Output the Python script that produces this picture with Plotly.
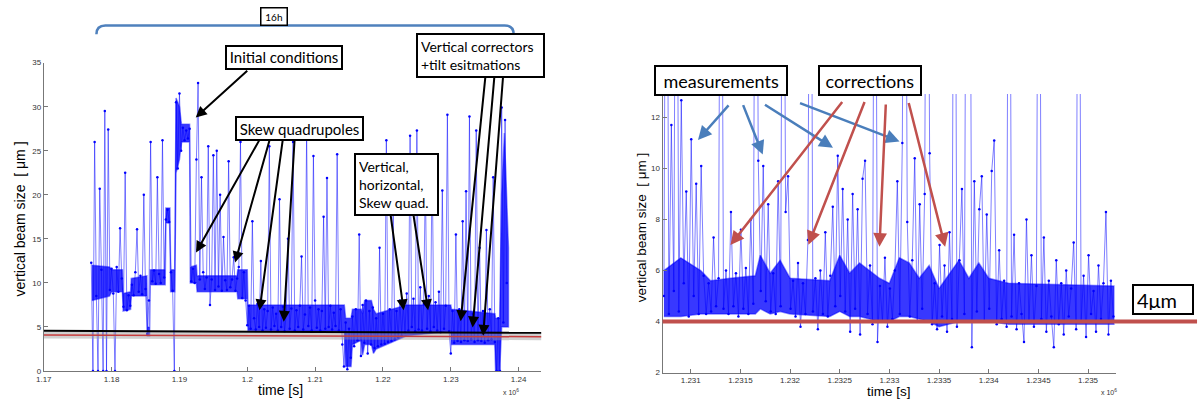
import numpy as np
import plotly.graph_objects as go

W, H = 1203, 407

# ---------------- data (time in units of 1e6 s, beam size in um) ----------------
# individual samples (spikes and scatter)
left_t0 = 1.1770
left_dt = 0.00025
left_size = [
    12.3, 0, 26.0, 8.5, 0, 20.7, 11.5, 0, 29.5, 0, 27.4,
    9.2, 11.6, 8.8, 0, 11.8, 9.0, 16.2, 10.5,
    7.3, 22.5, 6.9, 8.6, 7.4,
    9.8, 8.6, 11.2, 16.1, 9.0, 10.8, 8.7, 20.0, 9.3,
    4.2, 8.0,
    26.0, 10.2, 11.4, 9.9, 22.0, 11.0, 10.0, 26.2, 10.6,
    17.2, 18.3, 16.9,
    11.2, 9.1, 0,
    30.5, 23.0, 31.5, 25.0,
    27.6, 26.2, 27.3, 26.4, 27.5,
    10.2, 11.6, 10.0, 24.0, 32.7, 10.4, 22.0, 11.2,
    9.3, 10.6, 25.5, 7.5, 10.4, 24.5, 9.2, 25.0, 9.6, 20.0, 9.1, 15.2, 10.3, 9.2,
    23.8, 9.5, 10.4, 12.9, 9.1, 10.5, 11.8,
    26.0, 8.3, 11.2, 8.0,
    5.2, 7.4, 4.8, 17.0, 6.0, 4.7, 7.6, 5.0, 12.5, 4.6, 7.0, 4.9, 6.8, 25.5, 4.7,
    7.2, 5.1, 6.5, 4.6, 19.5, 5.0, 7.3, 4.5, 6.6, 15.0, 4.8, 7.1, 26.0, 4.6, 6.9,
    5.0, 7.4, 13.0, 4.7, 6.4, 27.0, 5.1, 7.2, 4.6, 24.4,
    8.0, 4.9,
    7.0, 4.6, 6.8, 17.5, 4.8, 21.9, 5.0, 7.4, 4.7, 6.6, 5.1, 24.6, 4.6, 7.0,
    3.0, 0.5, 5.5, 0.2, 4.8, 1.5,
    6.2, 2.8, 7.0, 3.5, 15.5, 1.7,
    7.5, 3.2, 8.0, 2.0, 6.8, 3.0,
    7.2, 2.6, 6.0, 2.8, 14.0, 3.0, 6.5, 3.1, 26.2, 3.3, 7.0, 3.4, 18.0, 3.6, 6.8, 3.8, 8.0, 4.0,
    7.5, 4.4, 8.8, 4.6, 26.7, 5.0, 8.2, 4.5, 27.3, 4.7, 9.5, 4.6, 7.6, 22.0, 4.8,
    8.5, 4.5, 24.0, 5.0, 7.8, 4.6, 9.0, 4.4, 20.5, 4.8, 7.4, 29.1, 4.5,
    2.0, 6.8, 3.2, 15.5, 3.4, 7.0, 3.3, 17.0, 3.5, 20.4, 3.4, 28.9, 3.6, 6.5, 3.3,
    27.3, 3.5, 14.0, 3.4, 6.8, 3.2, 16.0, 3.5, 7.0, 3.6, 22.0, 3.3,
    0, 6.0, 0,
    29.9, 5.5, 28.5, 10.0,
]

left_band_t = [1.1771, 1.1797, 1.1800, 1.1816, 1.1817, 1.1828, 1.1829, 1.1852, 1.1853, 1.1856,
               1.1857, 1.1879, 1.1880, 1.1886, 1.1887, 1.1893, 1.1895, 1.1900, 1.1903, 1.1915,
               1.1916, 1.1925, 1.1926, 1.1985, 1.1986, 1.2000, 1.2001, 1.2143, 1.2145, 1.2153,
               1.2155, 1.2168, 1.2170, 1.2173, 1.2183, 1.2186, 1.2190, 1.2235, 1.2300, 1.2301,
               1.2365, 1.2366, 1.2372, 1.2375, 1.2379, 1.2385]
left_band_lo = [8.0, 8.5, 9.0, 9.0, 6.8, 7.0, 8.5, 8.5, 4.0, 4.0,
                9.8, 9.8, 16.8, 16.8, 9.0, 9.0, 22.5, 24.0, 26.0, 26.0,
                10.0, 10.0, 9.0, 9.0, 8.2, 8.2, 4.6, 4.5, 0.5, 0.5,
                3.0, 3.5, 1.8, 3.0, 3.0, 2.0, 2.5, 4.0, 4.5, 3.0,
                3.0, 0.0, 0.0, 5.0, 5.0, 5.0]
left_band_hi = [12.0, 11.8, 11.5, 11.5, 8.8, 9.0, 10.5, 10.8, 5.0, 5.0,
                11.5, 11.5, 18.5, 18.5, 11.5, 11.5, 31.0, 30.0, 28.0, 28.0,
                11.8, 12.0, 10.8, 10.8, 11.5, 11.5, 7.5, 7.5, 6.0, 6.0,
                7.0, 7.0, 6.5, 8.0, 8.0, 7.0, 6.5, 7.5, 7.5, 7.0,
                6.5, 6.0, 6.0, 20.0, 27.0, 14.0]

right_t0 = 1.23073
right_dt = 0.000025
right_size = [
    5.0, 30, 4.3, 11.7, 5.2, 30, 4.4, 12.67, 5.5, 9.1,
    4.2, 11.15, 5.0, 9.4, 4.3, 10.1, 5.8, 4.3, 5.5, 4.4,
    7.3, 4.6, 5.7, 30, 4.5, 6.0, 4.3, 8.3, 4.6, 5.9,
    4.2, 7.6, 4.5, 6.1, 4.3, 8.0, 4.7, 30, 10.3, 5.2,
    10.1, 4.8, 8.6, 4.4, 5.9, 4.3, 9.5, 4.6, 30, 8.3,
    9.7, 4.5, 5.6, 4.2, 6.3, 3.8, 5.5, 4.3, 7.2, 30,
    4.4, 5.7, 3.7, 6.0, 4.3, 7.5, 4.2, 5.8, 8.5, 4.6,
    10.5, 5.0, 9.2, 4.4, 8.0, 3.6, 9.0, 4.5, 8.4, 3.5,
    9.6, 10.3, 4.3, 6.2, 3.9, 30, 3.2, 5.4, 4.0, 6.5,
    3.8, 5.3, 4.1, 6.0, 9.5, 4.3, 11.0, 30, 7.9, 4.2,
    6.4, 10.4, 4.0, 8.6, 4.5, 9.0, 30, 10.6, 3.9, 5.5,
    3.7, 7.0, 4.2, 6.2, 3.6, 7.5, 4.1, 30, 3.8, 6.4,
    9.2, 4.3, 30, 30, 3.0, 9.5, 4.4, 8.4, 9.7, 4.0,
    8.2, 4.5, 9.9, 11.1, 3.9, 6.8, 4.1, 5.6, 3.8, 30,
    4.2, 7.4, 3.7, 5.5, 4.3, 3.2, 8.0, 4.0, 6.6, 3.8,
    5.4, 30, 4.1, 7.3, 3.6, 5.6, 4.2, 3.0, 6.4, 3.9,
    5.5, 3.5, 6.0, 4.2, 5.3, 7.1, 3.7, 30, 4.0, 5.8,
    3.4, 6.6, 4.3, 5.2, 3.6, 6.2, 4.1, 5.5, 8.3, 3.5,
    5.6, 4.2,
]

right_band_t = [1.23073, 1.2309, 1.2311, 1.2312, 1.2314, 1.23165, 1.2317, 1.2318, 1.2319, 1.2320,
                1.2324, 1.2325, 1.2326, 1.2327, 1.2329, 1.2330, 1.2331, 1.2332, 1.2333, 1.2334,
                1.2335, 1.2337, 1.2338, 1.2339, 1.2340, 1.2342, 1.23526]
right_band_lo = [4.2, 4.2, 4.3, 4.3, 4.3, 4.3, 4.5, 4.3, 4.4, 4.3,
                 4.2, 4.4, 4.2, 4.2, 4.0, 4.0, 4.2, 4.2, 4.1, 4.0,
                 3.8, 4.0, 4.0, 4.0, 4.0, 3.9, 3.9]
right_band_hi = [6.0, 6.5, 6.0, 5.6, 5.7, 5.8, 6.6, 5.9, 6.4, 5.7,
                 5.6, 6.6, 5.9, 6.3, 5.7, 5.5, 6.5, 6.3, 5.7, 6.2,
                 5.3, 6.4, 5.7, 6.3, 5.7, 5.5, 5.4]

left_ticks = [1.17, 1.18, 1.19, 1.20, 1.21, 1.22, 1.23, 1.24]
left_ticklabels = ["1.17", "1.18", "1.19", "1.2", "1.21", "1.22", "1.23", "1.24"]
left_yticks = [0, 5, 10, 15, 20, 25, 30, 35]
right_ticks = [1.231, 1.2315, 1.232, 1.2325, 1.233, 1.2335, 1.234, 1.2345, 1.235]
right_ticklabels = ["1.231", "1.2315", "1.232", "1.2325", "1.233", "1.2335", "1.234", "1.2345", "1.235"]
right_yticks = [2, 4, 6, 8, 10, 12]

left_time = left_t0 + left_dt * np.arange(len(left_size))
right_time = right_t0 + right_dt * np.arange(len(right_size))


def px(x):
    return x / W


def py(y):
    return 1 - y / H


fig = go.Figure()
band_fill = "rgba(0,0,255,0.78)"
line_style = dict(color="rgba(0,0,255,0.5)", width=1)
marker_style = dict(color="#0000ff", size=2.5)

for bt, lo, hi, xa, ya in [(left_band_t, left_band_lo, left_band_hi, "x", "y"),
                           (right_band_t, right_band_lo, right_band_hi, "x2", "y2")]:
    fig.add_trace(go.Scatter(x=list(bt) + list(bt[::-1]), y=list(hi) + list(lo[::-1]),
                             mode="lines", fill="toself", fillcolor=band_fill,
                             line=dict(color="rgba(0,0,255,0.45)", width=1.5),
                             hoverinfo="skip", xaxis=xa, yaxis=ya))

fig.add_trace(go.Scatter(x=left_time, y=left_size, mode="lines+markers",
                         line=line_style, marker=marker_style, xaxis="x", yaxis="y"))
fig.add_trace(go.Scatter(x=right_time, y=right_size, mode="lines+markers",
                         line=line_style, marker=marker_style, xaxis="x2", yaxis="y2"))

axis_common = dict(showline=True, linecolor="#777", linewidth=1, ticks="inside", ticklen=4,
                   tickcolor="#777", showgrid=False, zeroline=False,
                   tickfont=dict(family="Liberation Sans", size=8, color="#333"))

fig.update_layout(
    width=W, height=H, margin=dict(l=0, r=0, t=0, b=0),
    paper_bgcolor="white", plot_bgcolor="white", showlegend=False,
    xaxis=dict(domain=[px(36), px(537)], range=[1.17, 1.24336], anchor="y",
               tickvals=left_ticks, ticktext=left_ticklabels, **axis_common),
    yaxis=dict(domain=[py(375.3), py(60)], range=[0, 35], anchor="x",
               tickvals=left_yticks, **axis_common),
    xaxis2=dict(domain=[px(659), px(1115)], range=[1.230717, 1.235277], anchor="y2",
                tickvals=right_ticks, ticktext=right_ticklabels, **axis_common),
    yaxis2=dict(domain=[py(377), py(92)], range=[2, 12.92], anchor="x2",
                tickvals=right_yticks, **axis_common),
)

shapes = [
    dict(type="line", xref="x", yref="y", x0=1.17, x1=1.24336, y0=4.08, y1=3.89,
         line=dict(color="rgba(150,150,150,0.45)", width=7)),
    dict(type="line", xref="x", yref="y", x0=1.17, x1=1.24336, y0=4.08, y1=3.89,
         line=dict(color="rgb(200,60,60)", width=1.5)),
    dict(type="line", xref="x", yref="y", x0=1.17, x1=1.24336, y0=4.56, y1=4.33,
         line=dict(color="black", width=2)),
    dict(type="line", xref="paper", yref="y2", x0=px(659), x1=px(1197), y0=4, y1=4,
         line=dict(color="rgb(192,80,77)", width=4)),
    dict(type="path", xref="paper", yref="paper",
         path=(f"M {px(89)},{py(31)} Q {px(89)},{py(22)} {px(98)},{py(22)} "
               f"L {px(500)},{py(22)} Q {px(509)},{py(22)} {px(509)},{py(31)}"),
         line=dict(color="rgb(79,129,189)", width=2.5)),
]
fig.update_layout(shapes=shapes)

ann = []


def arrow(tail, head, color, width=2):
    ann.append(dict(x=px(head[0]), y=py(head[1]), xref="paper", yref="paper",
                    ax=tail[0] - head[0], ay=tail[1] - head[1], axref="pixel", ayref="pixel",
                    text="", showarrow=True, arrowhead=2, arrowsize=1.1, arrowwidth=width,
                    arrowcolor=color, standoff=0, startstandoff=0))


def box(text, l, t, r, b, size, align="center", bw=2, pad=1, fix_height=True):
    d = dict(x=px((l + r) / 2), y=py((t + b) / 2), xref="paper", yref="paper",
             xanchor="center", yanchor="middle", text=text, showarrow=False,
             font=dict(family="Lato", size=size, color="black"),
             bgcolor="white", bordercolor="black", borderwidth=bw, borderpad=pad,
             width=(r - l) - 2 * (bw + pad), align=align, valign="middle")
    if fix_height:
        d["height"] = (b - t) - 2 * (bw + pad)
    ann.append(d)


K = "black"
arrow((242, 68), (189, 116), K)
for tail, head in [((253.6, 140), (189.3, 254)), ((263.6, 140), (228.6, 264.3)),
                   ((276.8, 140), (253.2, 313.3)), ((288.6, 140), (277.6, 325))]:
    arrow(tail, head, K)
for tail, head in [((385, 216), (398.3, 313.3)), ((408, 216), (422.9, 313.3))]:
    arrow(tail, head, K)
for tail, head in [((481, 74), (455.7, 324.3)), ((490, 74), (467.7, 330.7)),
                   ((498.7, 74), (478.3, 339.3))]:
    arrow(tail, head, K)

B = "rgb(74,126,187)"
for tail, head in [((726.5, 103), (694.6, 139)), ((739.6, 103), (759.8, 154)),
                   ((761, 103), (830.5, 147)), ((796.5, 101.7), (897.5, 140.5))]:
    arrow(tail, head, B, 2.5)
R = "rgb(192,80,77)"
for tail, head in [((840.2, 102), (727.3, 246.5)), ((862.5, 102), (805.8, 246.2)),
                   ((883.7, 104.5), (877.3, 248.3)), ((906.6, 103), (943.4, 248.3))]:
    arrow(tail, head, R, 2.5)

box("16h", 253.6, 3.3, 281.4, 22.3, 10, bw=1.5, pad=1)
box("Initial conditions", 219, 42.5, 337, 67, 15)
box("Skew quadrupoles", 229, 115, 358, 140, 15)
box("Vertical,<br>horizontal,<br>Skew quad.", 348, 153.3, 433.3, 216, 14, align="left",
    pad=3, fix_height=False)
box("Vertical correctors<br>+tilt esitmations", 410.7, 30.7, 540, 74, 14, align="left",
    pad=3, fix_height=False)
box("measurements", 651, 62.7, 785.4, 94, 18, pad=2)
box("corrections", 815.4, 62.7, 919.2, 94, 18, pad=2)
box("4μm", 1132, 286.7, 1193.5, 317.7, 20, align="left", pad=3)


def label(text, x, y, size, angle=0, family="Liberation Sans", color="black"):
    ann.append(dict(x=px(x), y=py(y), xref="paper", yref="paper", xanchor="center",
                    yanchor="middle", text=text, showarrow=False, textangle=angle,
                    font=dict(family=family, size=size, color=color)))


label("vertical beam size  [ μm ]", 12.5, 220, 14, angle=-90)
label("vertical beam size  [ μm ]", 638.5, 228, 13.5, angle=-90)
label("time [s]", 274, 395, 14)
label("time [s]", 886.5, 396, 13.5)
label("x 10<sup>6</sup>", 506, 397, 7, color="#333")
label("x 10<sup>6</sup>", 1108, 397, 7, color="#333")

fig.update_layout(annotations=ann)
fig.write_html("out.html")
